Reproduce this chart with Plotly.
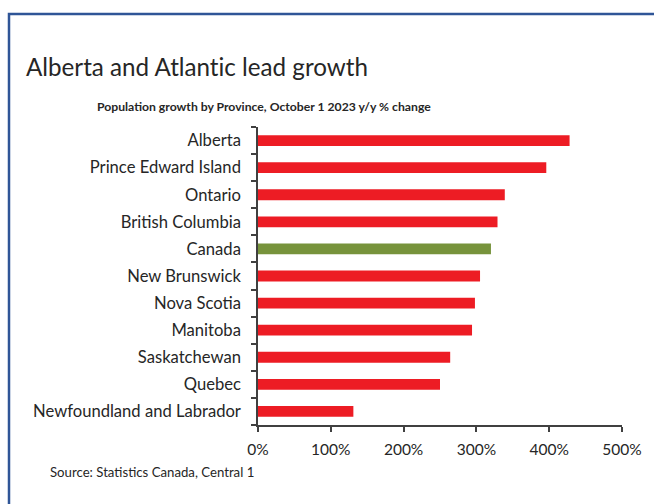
import plotly.graph_objects as go

provinces = ["Alberta", "Prince Edward Island", "Ontario", "British Columbia", "Canada",
             "New Brunswick", "Nova Scotia", "Manitoba", "Saskatchewan", "Quebec",
             "Newfoundland and Labrador"]
growth = [428, 396, 339, 329, 320, 305, 298, 294, 264, 250, 131]
colors = ["#77933C" if p == "Canada" else "#ED1C24" for p in provinces]
x_ticks = [0, 100, 200, 300, 400, 500]

W, H = 654, 504
L, R, T, B = 258, 622, 127, 425

def px(x):
    return (x - L) / (R - L)

def py(y):
    return (B - y) / (B - T)

FONT = "Lato"
TXT = "#262626"

fig = go.Figure(go.Bar(
    x=growth, y=provinces, orientation="h",
    marker=dict(color=colors, line=dict(width=0)),
    hoverinfo="x+y",
))

fig.update_layout(
    width=W, height=H,
    margin=dict(l=L, r=W - R, t=T, b=H - B, pad=0),
    paper_bgcolor="white", plot_bgcolor="white",
    bargap=0.6,
    showlegend=False,
    font=dict(family=FONT, size=15, color=TXT),
    xaxis=dict(range=[0, 500], tickvals=x_ticks, ticktext=[f"{v}%" for v in x_ticks],
               showgrid=False, zeroline=False, showline=True, linecolor="#404040", linewidth=1.5,
               ticks="outside", ticklen=5, tickcolor="#404040", tickwidth=1.5,
               ticklabelstandoff=5,
               tickfont=dict(family=FONT, size=15.5, color=TXT)),
    yaxis=dict(categoryorder="array", categoryarray=provinces[::-1],
               showgrid=False, zeroline=False, showline=True, linecolor="#404040", linewidth=1.5,
               ticks="outside", ticklen=5, tickcolor="#404040", tickwidth=1.5,
               tickson="boundaries", ticklabelstandoff=12,
               tickfont=dict(family=FONT, size=16.6, color=TXT)),
    shapes=[dict(type="rect", xref="paper", yref="paper",
                 x0=px(9), x1=px(720), y0=py(14), y1=py(560),
                 line=dict(color="#2F5597", width=2.5), fillcolor="rgba(0,0,0,0)", layer="below")],
    annotations=[
        dict(text="Alberta and Atlant\u200cic lead growth", xref="paper", yref="paper",
             x=px(24), y=py(66), xanchor="left", yanchor="middle", showarrow=False,
             font=dict(family=FONT, size=24.2, color=TXT)),
        dict(text="<b>Population growth by Province, October 1 2023 y/y % change</b>",
             xref="paper", yref="paper", x=px(263.5), y=py(106), xanchor="center", yanchor="middle",
             showarrow=False, font=dict(family=FONT, size=12.2, color=TXT)),
        dict(text="Source: Statistics Canada, Central 1", xref="paper", yref="paper",
             x=px(48), y=py(472), xanchor="left", yanchor="middle", showarrow=False,
             font=dict(family=FONT, size=13.2, color=TXT)),
    ],
)

fig.write_html("out.html")
